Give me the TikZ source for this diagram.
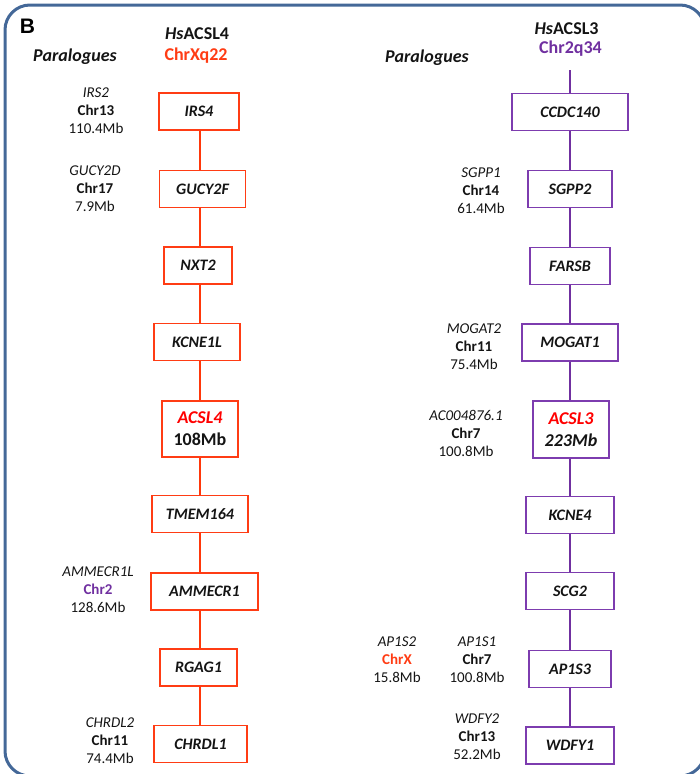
\documentclass[tikz,border=0pt]{standalone}
\usepackage{fontspec}
\setmainfont{Carlito}
\newfontfamily\arialfont{Liberation Sans}
\definecolor{orx}{RGB}{255,60,20}
\definecolor{orline}{RGB}{255,55,10}
\definecolor{purp}{RGB}{112,48,160}
\definecolor{purbox}{RGB}{125,60,175}
\definecolor{redg}{RGB}{255,0,0}
\definecolor{framec}{RGB}{68,104,152}
\definecolor{txt}{RGB}{20,20,20}
\tikzset{
  gbox/.style={draw, line width=1.3pt, minimum height=37pt, inner sep=0pt,
    text=txt, font=\fontsize{16}{20}\selectfont\bfseries\itshape},
  lbox/.style={gbox, draw=orx},
  rbox/.style={gbox, draw=purbox},
  para/.style={inner sep=0pt, align=center, text=txt, font=\fontsize{15}{18}\selectfont},
  ttl/.style={inner sep=0pt, text=txt, font=\fontsize{18}{22}\selectfont\bfseries},
  lconn/.style={draw=orline, line width=2.4pt},
  rconn/.style={draw=purp, line width=2.4pt},
}
\begin{document}
\begin{tikzpicture}[x=1pt,y=-1pt]
\useasboundingbox (0,0) rectangle (700,774);
\draw[framec, line width=3pt, rounded corners=25pt] (5,5) rectangle (705,776);
% headers
\node[inner sep=0pt, font=\arialfont\fontsize{21}{24}\selectfont\bfseries] (B) at (27.5,26) {B};
\node[ttl] (t4) at (197,34) {\textit{Hs}ACSL4};
\node[ttl, text=orx] (c4) at (196,56) {ChrXq22};
\node[ttl, font=\fontsize{18}{22}\selectfont\bfseries\itshape] (pl) at (75,57) {Paralogues};
\node[ttl] (t3) at (566.5,29) {\textit{Hs}ACSL3};
\node[ttl, text=purp] (c3) at (570.5,49) {Chr2q34};
\node[ttl, font=\fontsize{18}{22}\selectfont\bfseries\itshape] (pr) at (427,58) {Paralogues};
% left column
\node[lbox, minimum width=80pt] (irs4) at (199,111.5) {IRS4};
\node[lbox, minimum width=86pt] (gucy) at (202.5,189) {GUCY2F};
\node[lbox, minimum width=68pt] (nxt2) at (198,265.5) {NXT2};
\node[lbox, minimum width=86pt] (kcne1l) at (197,342) {KCNE1L};
\node[lbox, minimum width=76pt, minimum height=56pt, align=center, font=\fontsize{18}{22}\selectfont\bfseries] (acsl4) at (200,429) {\textcolor{redg}{\itshape ACSL4}\\108Mb};
\node[lbox, minimum width=96pt] (tmem) at (200,514) {TMEM164};
\node[lbox, minimum width=107pt] (ammecr) at (204.5,591.5) {AMMECR1};
\node[lbox, minimum width=77pt] (rgag) at (198.5,667.5) {RGAG1};
\node[lbox, minimum width=93pt] (chrdl) at (200.5,744) {CHRDL1};
\foreach \a/\b in {irs4/gucy,gucy/nxt2,nxt2/kcne1l,kcne1l/acsl4,acsl4/tmem,tmem/ammecr,ammecr/rgag,rgag/chrdl}
  \draw[lconn] (\a.south -| 200,0) -- (\b.north -| 200,0);
% left paralogues
\node[para] (p1) at (96,111) {\textit{IRS2}\\\textbf{Chr13}\\110.4Mb};
\node[para] (p2) at (95,189) {\textit{GUCY2D}\\\textbf{Chr17}\\7.9Mb};
\node[para] (p3) at (98,590) {\textit{AMMECR1L}\\\textbf{\textcolor{purp}{Chr2}}\\128.6Mb};
\node[para] (p4) at (110,741) {\textit{CHRDL2}\\\textbf{Chr11}\\74.4Mb};
% right column
\coordinate (rtop) at (570,70);
\node[rbox, minimum width=116pt] (ccdc) at (570,112) {CCDC140};
\node[rbox, minimum width=84pt] (sgpp2) at (570,189) {SGPP2};
\node[rbox, minimum width=80pt] (farsb) at (570,266) {FARSB};
\node[rbox, minimum width=96pt] (mogat1) at (570,342.5) {MOGAT1};
\node[rbox, minimum width=76pt, minimum height=57pt, align=center, font=\fontsize{18}{22}\selectfont\bfseries\itshape] (acsl3) at (571,429.5) {\textcolor{redg}{ACSL3}\\223Mb};
\node[rbox, minimum width=88pt] (kcne4) at (570,515) {KCNE4};
\node[rbox, minimum width=88pt] (scg2) at (570,591) {SCG2};
\node[rbox, minimum width=82pt] (ap1s3) at (570,669) {AP1S3};
\node[rbox, minimum width=88pt] (wdfy1) at (570,745.5) {WDFY1};
\draw[rconn] (rtop) -- (ccdc.north -| rtop);
\foreach \a/\b in {ccdc/sgpp2,sgpp2/farsb,farsb/mogat1,mogat1/acsl3,acsl3/kcne4,kcne4/scg2,scg2/ap1s3,ap1s3/wdfy1}
  \draw[rconn] (\a.south -| rtop) -- (\b.north -| rtop);
% right paralogues
\node[para] (q1) at (481,191) {\textit{SGPP1}\\\textbf{Chr14}\\61.4Mb};
\node[para] (q2) at (474,347) {\textit{MOGAT2}\\\textbf{Chr11}\\75.4Mb};
\node[para] (q3) at (466,433) {\textit{AC004876.1}\\\textbf{Chr7}\\100.8Mb};
\node[para] (q4) at (397,660) {\textit{AP1S2}\\\textbf{\textcolor{orx}{ChrX}}\\15.8Mb};
\node[para] (q5) at (477,660) {\textit{AP1S1}\\\textbf{Chr7}\\100.8Mb};
\node[para] (q6) at (477,737) {\textit{WDFY2}\\\textbf{Chr13}\\52.2Mb};
\end{tikzpicture}
\end{document}
